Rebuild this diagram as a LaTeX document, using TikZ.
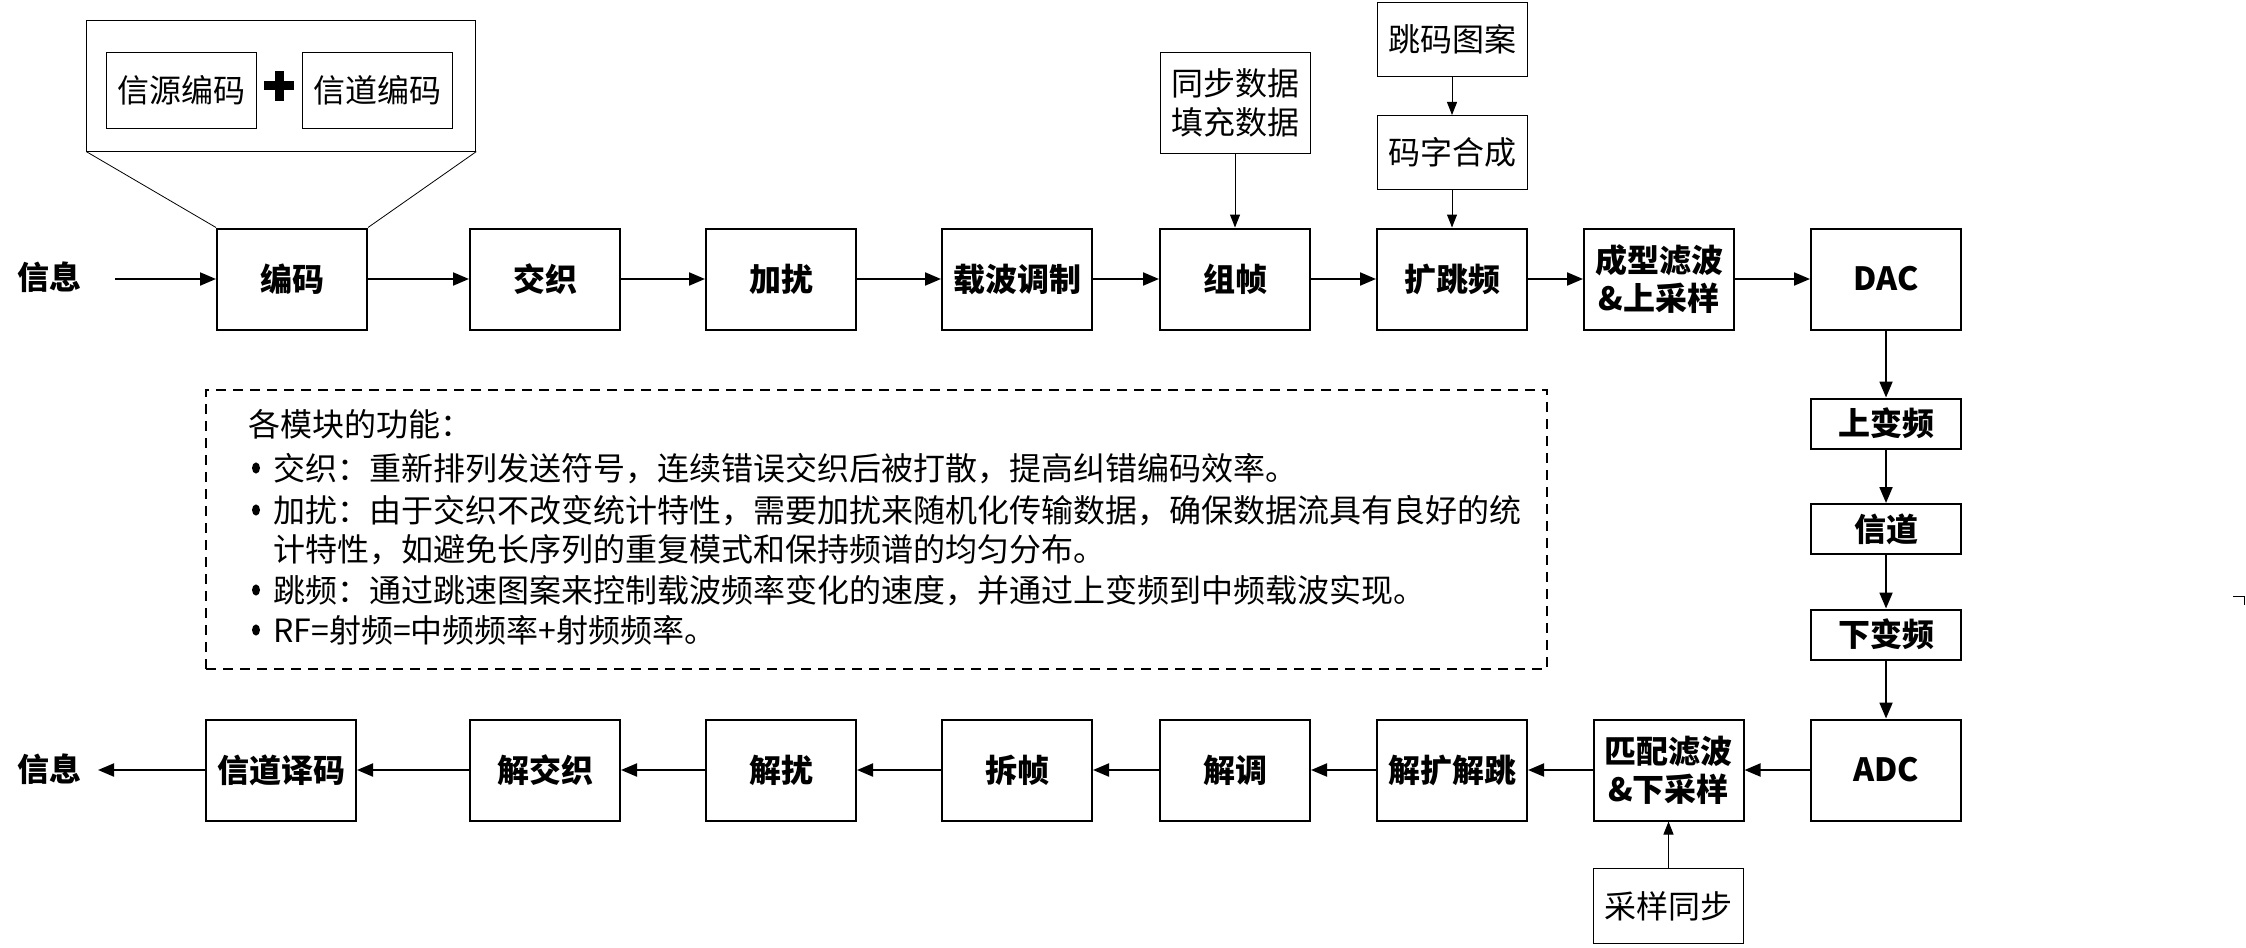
\documentclass[tikz,border=0pt]{standalone}
\usepackage{fontspec}
\setmainfont{Noto Sans CJK SC}
\usetikzlibrary{arrows.meta}
\tikzset{
  mbox/.style={draw, line width=1pt, minimum width=75pt, minimum height=50.5pt, inner sep=0pt, align=center, font=\bfseries\fontsize{16pt}{19pt}\selectfont},
  sbox/.style={mbox, minimum height=25pt},
  abox/.style={draw, line width=0.5pt, minimum width=75pt, inner sep=0pt, align=center, font=\fontsize{16pt}{19.5pt}\selectfont},
  flow/.style={line width=1pt, -{Triangle[length=8pt,width=6.5pt]}},
  thinflow/.style={line width=0.5pt, -{Triangle[length=6.5pt,width=5pt]}},
  thinline/.style={line width=0.4pt},
  lbl/.style={font=\bfseries\fontsize{16pt}{19pt}\selectfont, inner sep=0pt},
  notebox/.style={draw, line width=0.85pt, dash pattern=on 5pt off 3.5pt, inner sep=0pt},
  txt/.style={font=\fontsize{16pt}{19pt}\selectfont, inner sep=0pt, anchor=west, text height=13.5pt, text depth=1.5pt},
  bulletdot/.style={fill, x radius=2pt, y radius=2.8pt},
}
\begin{document}
\begin{tikzpicture}[x=0.5pt,y=-0.5pt]
\useasboundingbox (0,0) rectangle (2246,947);

% encoder detail
\node[abox, minimum width=194.5pt, minimum height=65.5pt] (det) at (281.3,85.6) {};
\node[abox, minimum height=37.5pt] (srcc) at (181,90.5) {信源编码};
\node[abox, minimum height=37.5pt] (chc) at (377,90.5) {信道编码};
\fill (264,81.5) rectangle (294,90.5);
\fill (274.5,71) rectangle (283.5,101);

% top row
\node[lbl] (infoA) at (50,277) {信息};
\coordinate (inA) at (115,279);
\node[mbox] (enc) at (292,279) {编码};
\node[mbox] (il) at (545,279) {交织};
\node[mbox] (scr) at (781,279) {加扰};
\node[mbox] (mod) at (1017,279) {载波调制};
\node[mbox] (frm) at (1235,279) {组帧};
\node[mbox] (fh) at (1452,279) {扩跳频};
\node[mbox] (shp) at (1659,279) {成型滤波\\\&上采样};
\node[mbox] (dac) at (1886,279) {DAC};

% auxiliary inputs
\node[abox, minimum height=50.5pt] (sd) at (1235,103) {同步数据\\填充数据};
\node[abox, minimum height=37pt] (hp) at (1452,39.5) {跳码图案};
\node[abox, minimum height=37pt] (cw) at (1452,152.5) {码字合成};

% right column
\node[sbox] (up) at (1886,423.5) {上变频};
\node[sbox] (chn) at (1886,529) {信道};
\node[sbox] (down) at (1886,634.5) {下变频};
\node[mbox] (adc) at (1886,770) {ADC};

% bottom row
\node[mbox] (mf) at (1668.5,770) {匹配滤波\\\&下采样};
\node[mbox] (dehop) at (1452,770) {解扩解跳};
\node[mbox] (demod) at (1235,770) {解调};
\node[mbox] (defrm) at (1017,770) {拆帧};
\node[mbox] (desc) at (781,770) {解扰};
\node[mbox] (deil) at (545,770) {解交织};
\node[mbox] (chdec) at (281,770) {信道译码};
\node[lbl] (infoB) at (50,769) {信息};
\coordinate (outB) at (98,770);
\node[abox, minimum height=37.5pt] (sync) at (1668.5,906) {采样同步};

% connectors
\draw[thinline] (det.south west) -- (enc.north west);
\draw[thinline] (det.south east) -- (enc.north east);
\draw[flow] (inA) -- (enc.west);
\draw[flow] (enc) -- (il);
\draw[flow] (il) -- (scr);
\draw[flow] (scr) -- (mod);
\draw[flow] (mod) -- (frm);
\draw[flow] (frm) -- (fh);
\draw[flow] (fh) -- (shp);
\draw[flow] (shp) -- (dac);
\draw[thinflow] (sd) -- (frm);
\draw[thinflow] (hp) -- (cw);
\draw[thinflow] (cw) -- (fh);
\draw[flow] (dac) -- (up);
\draw[flow] (up) -- (chn);
\draw[flow] (chn) -- (down);
\draw[flow] (down) -- (adc);
\draw[flow] (adc) -- (mf);
\draw[flow] (mf) -- (dehop);
\draw[flow] (dehop) -- (demod);
\draw[flow] (demod) -- (defrm);
\draw[flow] (defrm) -- (desc);
\draw[flow] (desc) -- (deil);
\draw[flow] (deil) -- (chdec);
\draw[flow] (chdec.west) -- (outB);
\draw[thinflow] (sync) -- (mf);

% notes
\node[notebox, minimum width=670.5pt, minimum height=139.5pt] (note) at (876.5,529.5) {};
\node[txt] (t0) at (248,424) {各模块的功能：};
\fill[bulletdot] (256,468) ellipse [];
\node[txt] (t1) at (273,468) {交织：重新排列发送符号，连续错误交织后被打散，提高纠错编码效率。};
\fill[bulletdot] (256,510) ellipse [];
\node[txt] (t2) at (273,510) {加扰：由于交织不改变统计特性，需要加扰来随机化传输数据，确保数据流具有良好的统};
\node[txt] (t2b) at (273,549) {计特性，如避免长序列的重复模式和保持频谱的均匀分布。};
\fill[bulletdot] (256,590) ellipse [];
\node[txt] (t3) at (273,590) {跳频：通过跳速图案来控制载波频率变化的速度，并通过上变频到中频载波实现。};
\fill[bulletdot] (256,630) ellipse [];
\node[txt] (t4) at (273,630) {RF=射频=中频频率+射频频率。};

% small corner mark at right edge
\draw[line width=0.5pt] (2233,596) -- (2244,596) -- (2244,605);
\end{tikzpicture}
\end{document}
